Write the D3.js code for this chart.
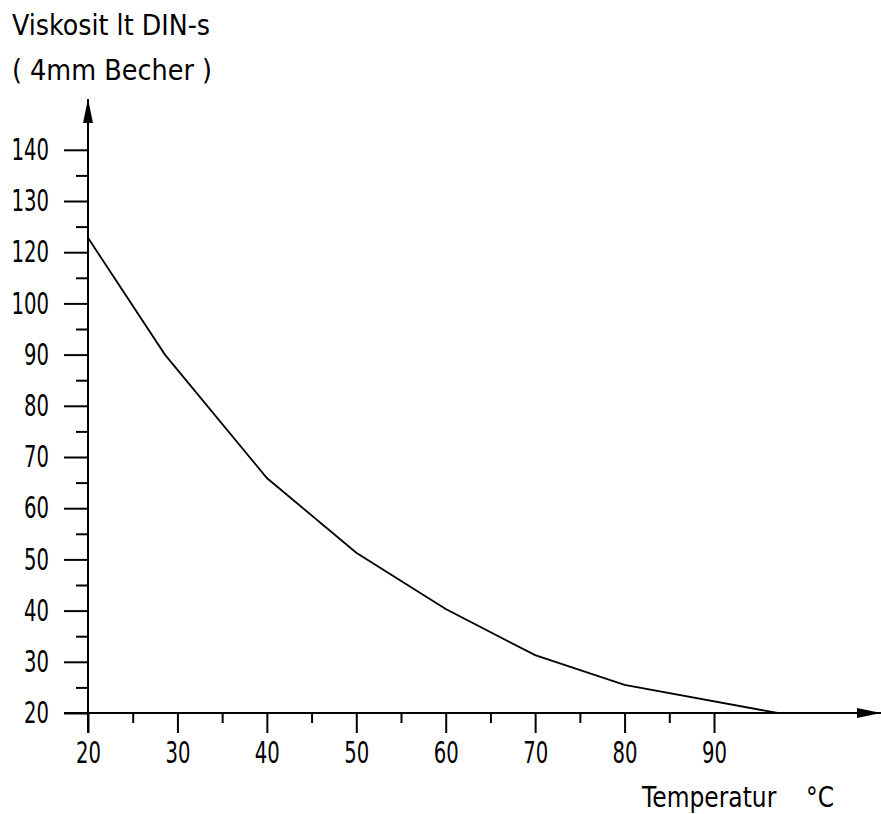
<!DOCTYPE html>
<html>
<head>
<meta charset="utf-8">
<script src="https://cdn.jsdelivr.net/npm/d3@7"></script>
<style>
  body { margin: 0; background: #fff; }
  svg text { font-family: "DejaVu Sans", sans-serif; fill: #000; }
  .axis path.domain { display: none; }
  .axis line { stroke: #000; stroke-width: 2; }
  .axis text { font-size: 30px; }
</style>
</head>
<body>
<div id="chart"></div>
<script>
// Temperatur (°C) und Viskosität (DIN-s, 4mm Becher)
const temperatures = [20, 28.6, 40, 50, 60, 70, 80, 97.1];
const viscosity = [122.8, 90, 65.9, 51.3, 40.3, 31.3, 25.5, 20];

// Achsenbeschriftung (110 fehlt im Original)
const yTicks = [20, 30, 40, 50, 60, 70, 80, 90, 100, 120, 130, 140];
const yMinorTicks = [25, 35, 45, 55, 65, 75, 85, 95, 110, 125, 135];
const xTicks = [20, 30, 40, 50, 60, 70, 80, 90];
const xMinorTicks = [25, 35, 45, 55, 65, 75, 85];

const W = 881, H = 814;
const DIGIT = 12.5; // Breite pro Ziffer, schmale CAD-Schrift
const svg = d3.select("#chart").append("svg")
  .attr("width", W).attr("height", H);

const step = 51.2;
const y0 = 713;
// Skala stückweise linear: 100 -> 120 nimmt nur einen Schritt ein
const yScale = d3.scaleLinear()
  .domain([20, 100, 120, 140])
  .range([y0, y0 - 8 * step, y0 - 9 * step, y0 - 11 * step]);
const xScale = d3.scaleLinear().domain([20, 90]).range([88, 714]);

// Pfeilspitze
svg.append("defs").append("marker")
  .attr("id", "arrow").attr("viewBox", "0 0 24 10")
  .attr("refX", 24).attr("refY", 5)
  .attr("markerWidth", 24).attr("markerHeight", 10)
  .attr("markerUnits", "userSpaceOnUse").attr("orient", "auto")
  .append("path").attr("d", "M0,0 L24,5 L0,10 Z").attr("fill", "#000");

// Y-Achse
const yAxisG = svg.append("g").attr("class", "axis")
  .attr("transform", `translate(${xScale(20)},0)`)
  .call(d3.axisLeft(yScale).tickValues(yTicks).tickSize(24).tickSizeOuter(0).tickPadding(15).tickFormat(d3.format("d")));
yAxisG.selectAll("text")
  .attr("textLength", d => String(d).length * DIGIT)
  .attr("lengthAdjust", "spacingAndGlyphs");
svg.append("g").attr("class", "axis")
  .attr("transform", `translate(${xScale(20)},0)`)
  .call(d3.axisLeft(yScale).tickValues(yMinorTicks).tickSize(12).tickSizeOuter(0).tickFormat(""));

// X-Achse
const xAxisG = svg.append("g").attr("class", "axis")
  .attr("transform", `translate(0,${yScale(20)})`)
  .call(d3.axisBottom(xScale).tickValues(xTicks).tickSize(20).tickSizeOuter(0).tickPadding(9).tickFormat(d3.format("d")));
xAxisG.selectAll("text")
  .attr("textLength", d => String(d).length * DIGIT)
  .attr("lengthAdjust", "spacingAndGlyphs");
svg.append("g").attr("class", "axis")
  .attr("transform", `translate(0,${yScale(20)})`)
  .call(d3.axisBottom(xScale).tickValues(xMinorTicks).tickSize(10).tickSizeOuter(0).tickFormat(""));

// Achsenlinien mit Pfeilen
svg.append("line")
  .attr("x1", xScale(20)).attr("y1", yScale(20) + 20)
  .attr("x2", xScale(20)).attr("y2", 99)
  .attr("stroke", "#000").attr("stroke-width", 2)
  .attr("marker-end", "url(#arrow)");
svg.append("line")
  .attr("x1", 64).attr("y1", yScale(20))
  .attr("x2", 881).attr("y2", yScale(20))
  .attr("stroke", "#000").attr("stroke-width", 2)
  .attr("marker-end", "url(#arrow)");

// Kurve
const line = d3.line()
  .x((d, i) => xScale(temperatures[i]))
  .y(d => yScale(d));
svg.append("path")
  .datum(viscosity)
  .attr("d", line)
  .attr("fill", "none").attr("stroke", "#000").attr("stroke-width", 1.8);

// Titel und Achsentitel
function label(x, y, str, len) {
  svg.append("text")
    .attr("x", x).attr("y", y)
    .attr("textLength", len)
    .attr("lengthAdjust", "spacingAndGlyphs")
    .attr("xml:space", "preserve")
    .style("font-size", "29px")
    .text(str);
}
label(12, 35, "Viskosit lt DIN-s", 198);
label(12, 80, "( 4mm Becher )", 200);
label(642, 807, "Temperatur    °C", 192);
</script>
</body>
</html>
